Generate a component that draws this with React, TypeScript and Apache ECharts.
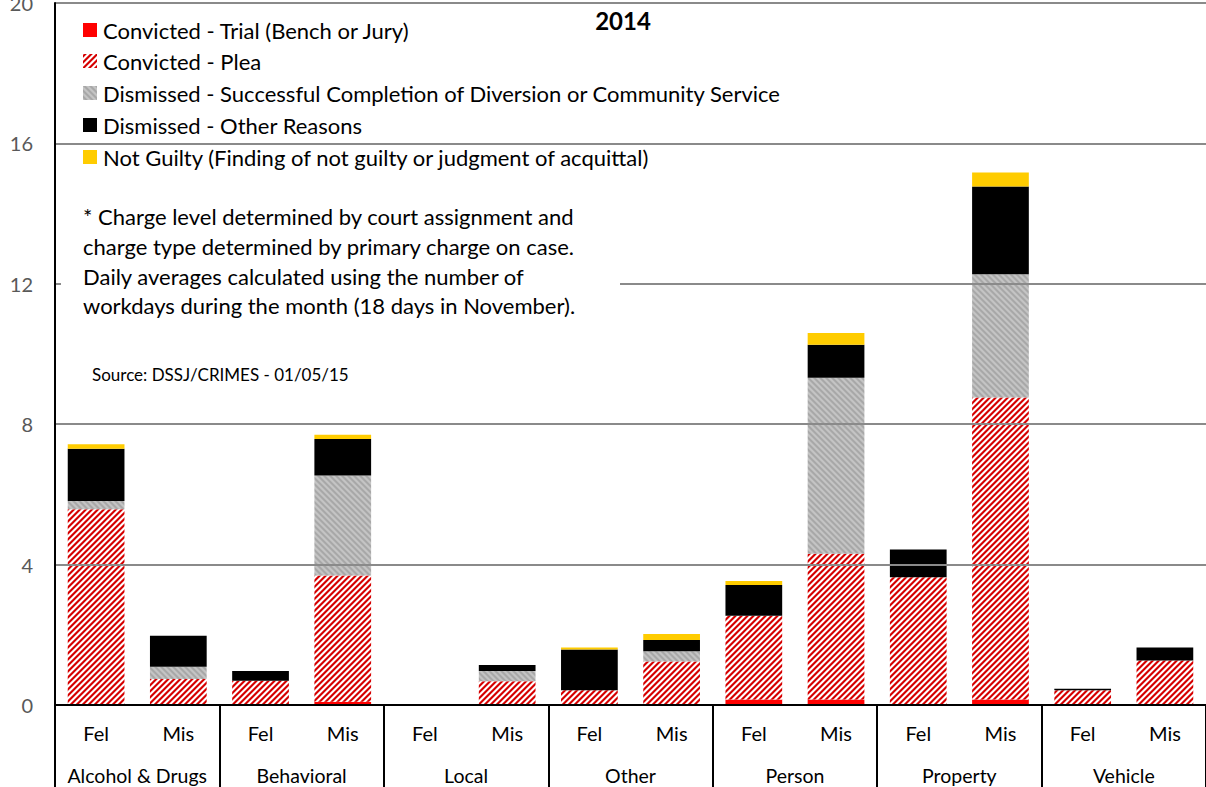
import React, { useEffect, useRef } from "react";
import * as echarts from "echarts";

const subCats = ["Fel", "Mis", "Fel", "Mis", "Fel", "Mis", "Fel", "Mis", "Fel", "Mis", "Fel", "Mis", "Fel", "Mis"];
const groups = ["Alcohol & Drugs", "Behavioral", "Local", "Other", "Person", "Property", "Vehicle"];
const yTicks = { min: 0, max: 20, interval: 4 };

const trial = [0, 0, 0, 0.09, 0, 0, 0, 0.02, 0.16, 0.16, 0, 0.16, 0, 0];
const plea = [5.58, 0.74, 0.69, 3.6, 0, 0.68, 0.42, 1.22, 2.38, 4.15, 3.64, 8.6, 0.42, 1.27];
const divers = [0.23, 0.35, 0, 2.85, 0, 0.29, 0, 0.29, 0, 5.01, 0, 3.51, 0, 0];
const otherReasons = [1.49, 0.88, 0.28, 1.04, 0, 0.17, 1.16, 0.32, 0.88, 0.94, 0.79, 2.5, 0.04, 0.37];
const notGuilty = [0.13, 0, 0, 0.12, 0, 0, 0.06, 0.17, 0.11, 0.34, 0, 0.4, 0, 0];

const seriesNames = [
  "Convicted - Trial (Bench or Jury)",
  "Convicted - Plea",
  "Dismissed - Successful Completion of Diversion or Community Service",
  "Dismissed - Other Reasons",
  "Not Guilty (Finding of not guilty or judgment of acquittal)",
];

const noteLines = [
  "* Charge level determined by court assignment and",
  "charge type determined by primary charge on case.",
  "Daily averages calculated using the number of",
  "workdays during the month (18 days in November).",
];
const sourceText = "Source: DSSJ/CRIMES - 01/05/15";
const titleText = "2014";

const FONT = "Lato, 'Open Sans', sans-serif";

function makeTile(size: number, base: number[], stripe: number[], dir: 1 | -1, frac: number) {
  const c = document.createElement("canvas");
  c.width = size;
  c.height = size;
  const ctx = c.getContext("2d")!;
  const img = ctx.createImageData(size, size);
  for (let y = 0; y < size; y++) {
    for (let x = 0; x < size; x++) {
      let t = 0;
      const S = 4;
      for (let sy = 0; sy < S; sy++) {
        for (let sx = 0; sx < S; sx++) {
          const px = x + (sx + 0.5) / S;
          const py = y + (sy + 0.5) / S;
          let d = dir === 1 ? px + py : px - py;
          d = ((d % size) + size) % size;
          if (d < size * frac) t++;
        }
      }
      const a = t / (S * S);
      const i = (y * size + x) * 4;
      img.data[i] = Math.round(base[0] * (1 - a) + stripe[0] * a);
      img.data[i + 1] = Math.round(base[1] * (1 - a) + stripe[1] * a);
      img.data[i + 2] = Math.round(base[2] * (1 - a) + stripe[2] * a);
      img.data[i + 3] = 255;
    }
  }
  ctx.putImageData(img, 0, 0);
  return c;
}

export default function App() {
  const ref = useRef<HTMLDivElement>(null);
  useEffect(() => {
    if (!ref.current) return;
    const chart = echarts.init(ref.current, null, { renderer: "svg" });
    const pleaTile = makeTile(6, [255, 255, 255], [214, 0, 0], 1, 0.5);
    const grayTile = makeTile(6, [168, 168, 168], [196, 196, 196], -1, 0.5);
    const pleaFill: any = { image: pleaTile, repeat: "repeat" };
    const grayFill: any = { image: grayTile, repeat: "repeat" };
    const fills: any[] = ["#ff0000", pleaFill, grayFill, "#000000", "#ffcc00"];
    const dataSets = [trial, plea, divers, otherReasons, notGuilty];

    const legendRows = [30, 61, 93, 125, 157];
    const graphic: any[] = [];
    seriesNames.forEach((n, i) => {
      graphic.push({
        type: "rect",
        shape: { x: 83, y: legendRows[i] - 7, width: 14, height: 14 },
        style: { fill: fills[i] },
        z: 100,
      });
      graphic.push({
        type: "text",
        x: 103,
        y: legendRows[i],
        style: { text: n, fill: "#000", font: `22px ${FONT}`, verticalAlign: "middle", align: "left" },
        z: 100,
      });
    });
    graphic.push({
      type: "rect",
      shape: { x: 61, y: 196, width: 559, height: 130 },
      style: { fill: "#ffffff" },
      z: 99,
    });
    const noteY = [216, 246, 276, 305];
    noteLines.forEach((t, i) => {
      graphic.push({
        type: "text",
        x: 83,
        y: noteY[i],
        style: { text: t, fill: "#000", font: `22px ${FONT}`, verticalAlign: "middle", align: "left" },
        z: 100,
      });
    });
    graphic.push({
      type: "text",
      x: 92,
      y: 374,
      style: { text: sourceText, fill: "#000", font: `17px ${FONT}`, verticalAlign: "middle", align: "left" },
      z: 100,
    });
    graphic.push({
      type: "text",
      x: 623,
      y: 20,
      style: { text: titleText, fill: "#000", font: `bold 24px ${FONT}`, verticalAlign: "middle", align: "center" },
      z: 100,
    });

    chart.setOption({
      animation: false,
      backgroundColor: "#ffffff",
      grid: { left: 55, right: 0, top: 3, bottom: 82, containLabel: false, outerBoundsMode: "none" },
      xAxis: [
        {
          type: "category",
          data: subCats,
          axisLine: { show: true, lineStyle: { color: "#000", width: 2 } },
          axisTick: { show: false },
          axisLabel: { interval: 0, margin: 18, fontSize: 20, color: "#000", fontFamily: FONT },
          z: 10,
        },
        {
          type: "category",
          data: groups,
          position: "bottom",
          axisLine: { show: false },
          axisTick: { show: true, interval: 0, length: 82, lineStyle: { color: "#000", width: 2 } },
          axisLabel: { interval: 0, margin: 60, fontSize: 19.5, color: "#000", fontFamily: FONT },
        },
      ],
      yAxis: {
        type: "value",
        min: yTicks.min,
        max: yTicks.max,
        interval: yTicks.interval,
        axisLine: { show: true, lineStyle: { color: "#000", width: 2 } },
        axisTick: { show: false },
        axisLabel: { margin: 22, fontSize: 20, color: "#595959", fontFamily: FONT },
        splitLine: { show: true, lineStyle: { color: "#8a8a8a", width: 2 } },
        z: 10,
      },
      graphic,
      series: dataSets.map((d, i) => ({
        name: seriesNames[i],
        type: "bar",
        stack: "total",
        xAxisIndex: 0,
        data: d,
        barWidth: "69%",
        itemStyle: { color: fills[i] },
        emphasis: { disabled: true },
      })),
    });
    return () => chart.dispose();
  }, []);
  return <div ref={ref} style={{ position: "absolute", left: 0, top: 0, width: 1206, height: 787 }} />;
}
